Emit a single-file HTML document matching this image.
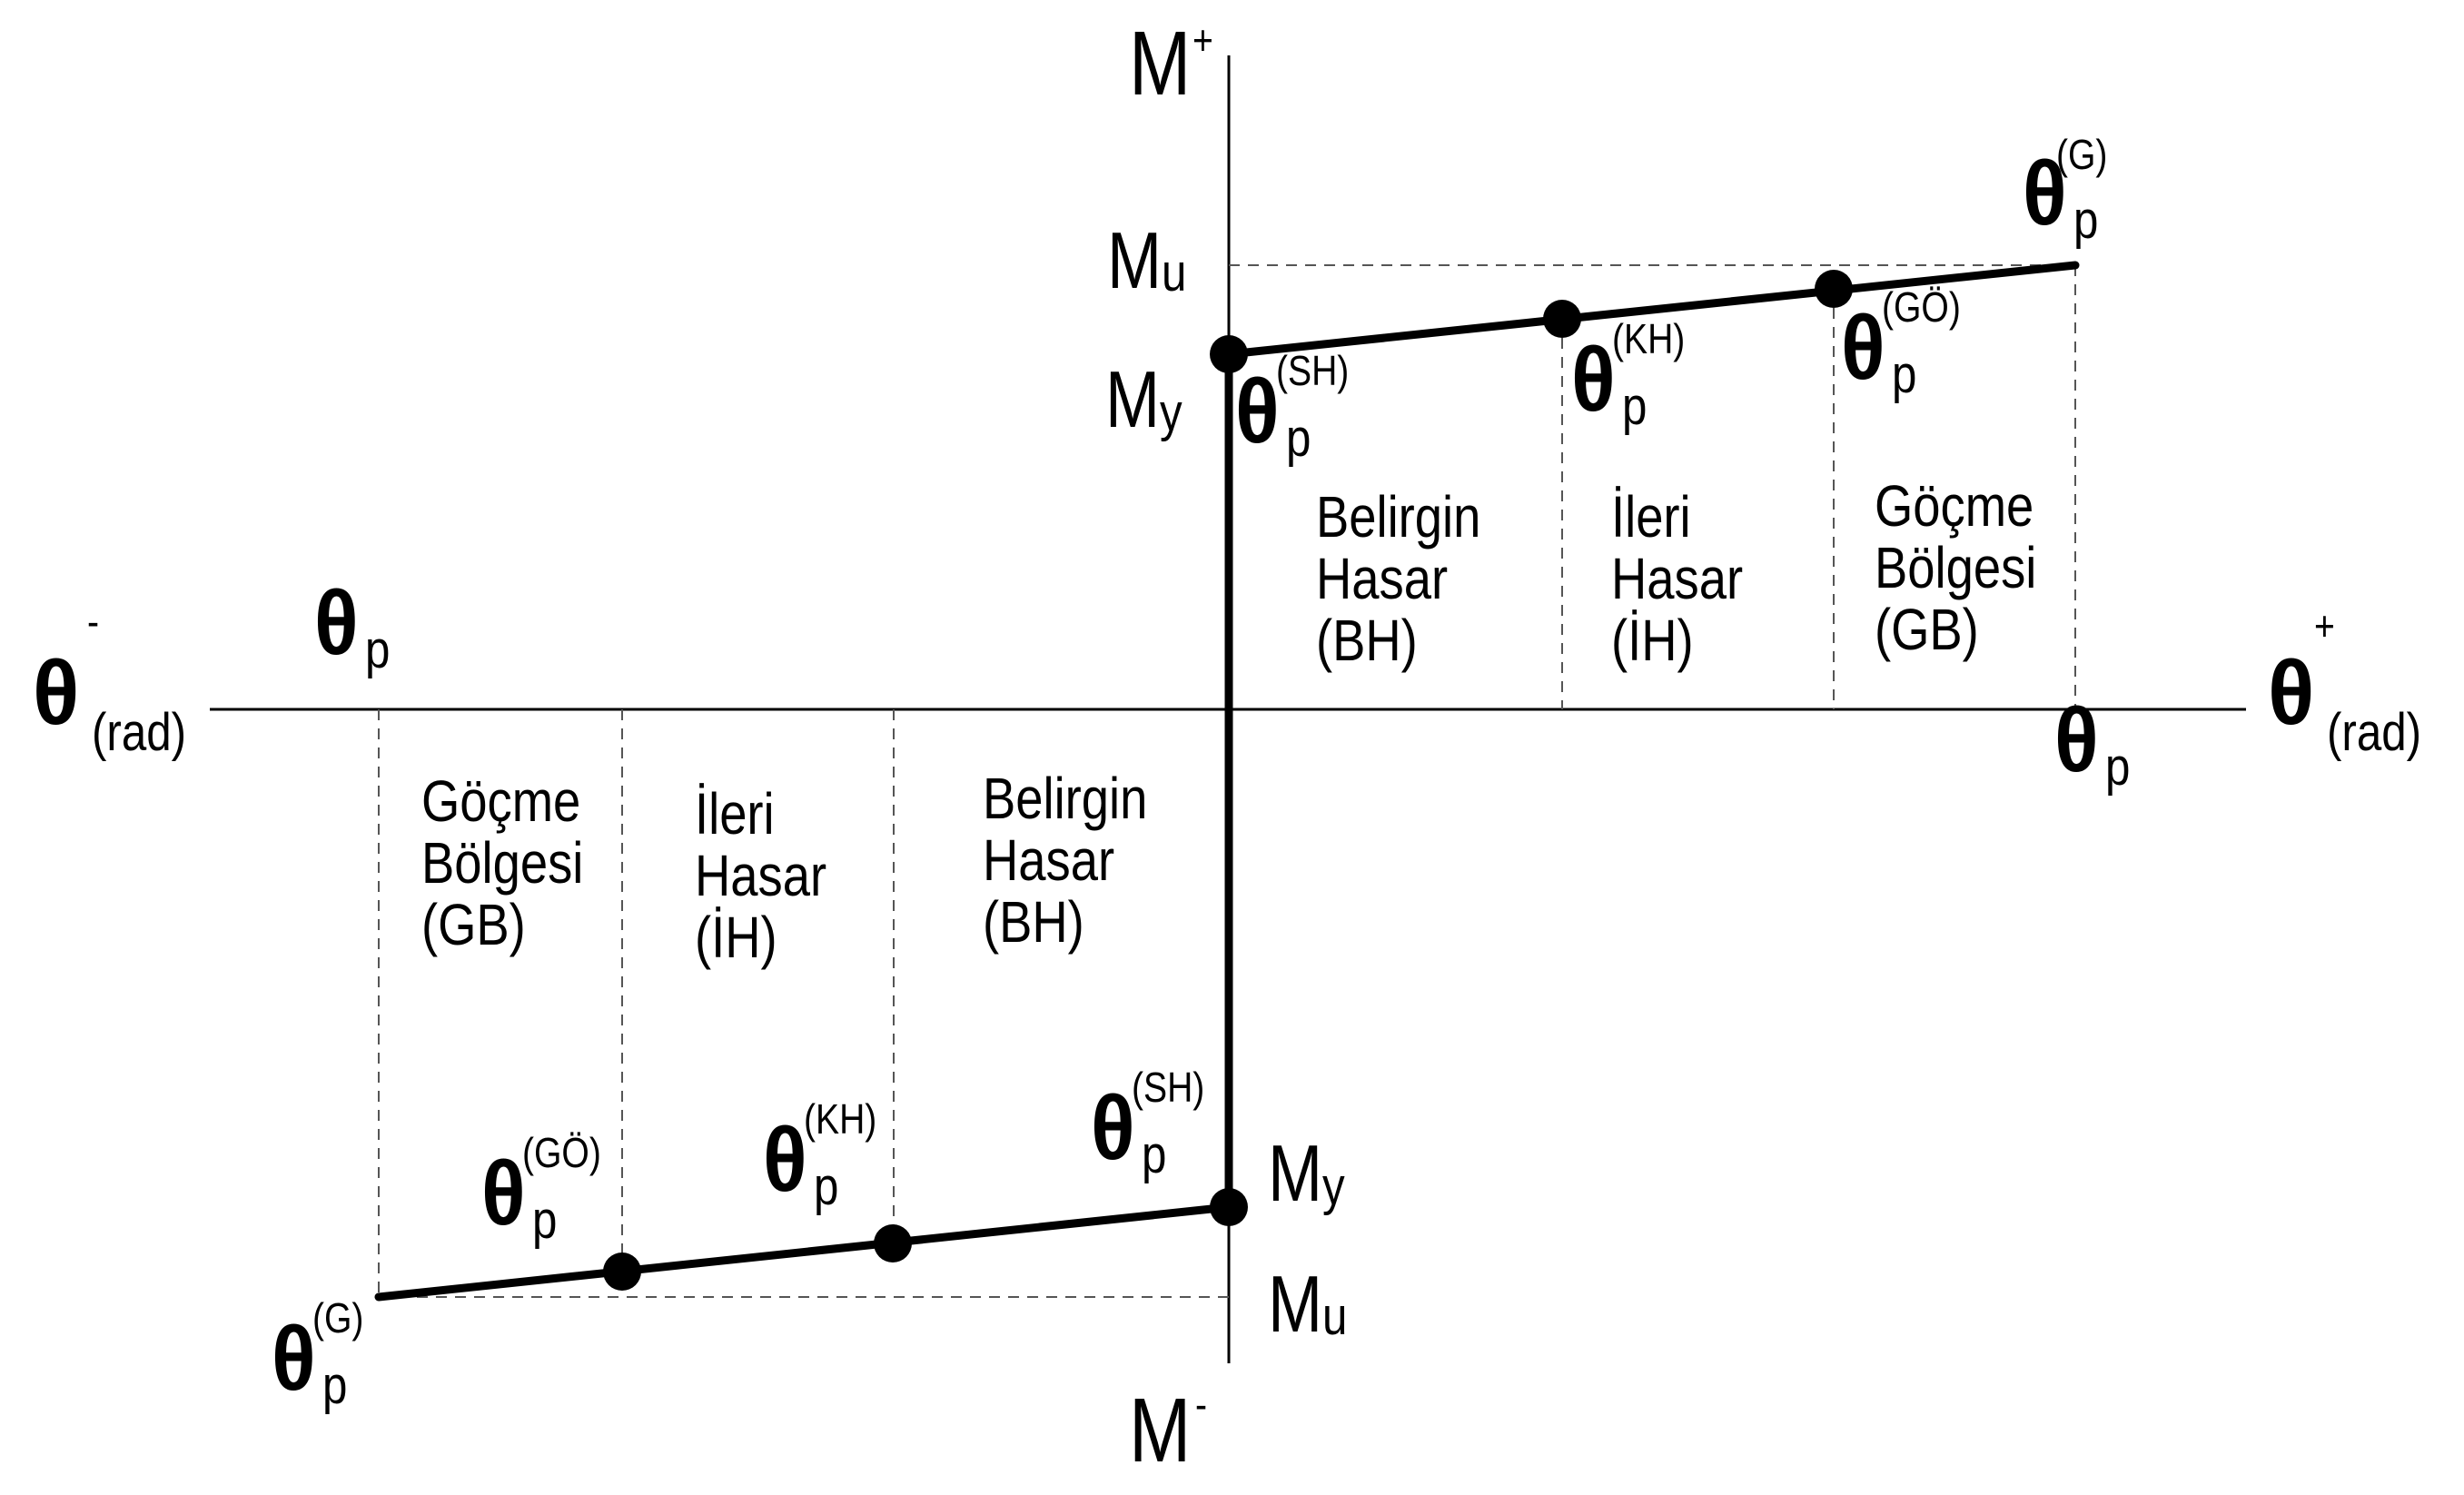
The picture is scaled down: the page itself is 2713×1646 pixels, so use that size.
<!DOCTYPE html>
<html><head><meta charset="utf-8"><style>
html,body{margin:0;padding:0;background:#fff}
svg{display:block}
text{font-family:"Liberation Sans",Arial,sans-serif;fill:#000}
.t{font-size:64px}
.th{font-size:100px;font-weight:bold}
.sub{font-size:58px}
.sup{font-size:46px}
.M{font-size:100px}
.Ms{font-size:88px}
</style></head><body>
<svg width="2713" height="1646" viewBox="0 0 2713 1646" xmlns="http://www.w3.org/2000/svg">
<g stroke="#000" fill="none">
<line x1="1353" y1="61" x2="1353" y2="1501" stroke-width="3"/>
<line x1="231" y1="781" x2="2473" y2="781" stroke-width="3"/>
<g stroke-width="2" stroke-dasharray="12,9" stroke="#555">
<line x1="1353" y1="292" x2="2285" y2="292"/>
<line x1="1720" y1="351" x2="1720" y2="781"/>
<line x1="2019" y1="318" x2="2019" y2="781"/>
<line x1="2285" y1="292" x2="2285" y2="781"/>
<line x1="417" y1="1428" x2="1353" y2="1428"/>
<line x1="417" y1="781" x2="417" y2="1428"/>
<line x1="685" y1="781" x2="685" y2="1400"/>
<line x1="984" y1="781" x2="984" y2="1369"/>
</g>
<line x1="1353" y1="390" x2="1353" y2="1329" stroke-width="9"/>
<line x1="1353" y1="390" x2="2285" y2="292" stroke-width="9" stroke-linecap="round"/>
<line x1="1353" y1="1329" x2="417" y2="1428" stroke-width="9" stroke-linecap="round"/>
</g>
<g fill="#000">
<circle cx="1353" cy="390" r="21"/><circle cx="1720" cy="351" r="21"/><circle cx="2019" cy="318" r="21"/>
<circle cx="1353" cy="1329" r="21"/><circle cx="983" cy="1369" r="21"/><circle cx="685" cy="1400" r="21"/>
</g>
<!-- axis labels -->
<text class="M" transform="translate(1243,104) scale(0.82,1)">M</text><text class="sup" transform="translate(1313,60) scale(0.85,1)">+</text>
<text class="M" transform="translate(1243,1609) scale(0.82,1)">M</text><text class="sup" transform="translate(1316,1562) scale(0.85,1)">-</text>
<text class="Ms" transform="translate(1219,317) scale(0.82,1)">M</text><text class="sub" transform="translate(1279,320) scale(0.85,1)">u</text>
<text class="Ms" transform="translate(1217,470) scale(0.82,1)">M</text><text class="sub" transform="translate(1277,474) scale(0.85,1)">y</text>
<text class="Ms" transform="translate(1396,1322) scale(0.82,1)">M</text><text class="sub" transform="translate(1456,1326) scale(0.85,1)">y</text>
<text class="Ms" transform="translate(1396,1466) scale(0.82,1)">M</text><text class="sub" transform="translate(1456,1469) scale(0.85,1)">u</text>
<text class="th" transform="translate(36,797) scale(0.95,1)">θ</text><text class="sup" transform="translate(96,700) scale(0.85,1)">-</text><text class="sub" transform="translate(101,826) scale(0.85,1)">(rad)</text>
<text class="th" transform="translate(2497,797) scale(0.95,1)">θ</text><text class="sup" transform="translate(2548,705) scale(0.85,1)">+</text><text class="sub" transform="translate(2562,826) scale(0.85,1)">(rad)</text>
<!-- theta_p labels -->
<g>
<text class="th" transform="translate(1360,487) scale(0.9,1)">θ</text><text class="sub" transform="translate(1416,502) scale(0.85,1)">p</text><text class="sup" transform="translate(1405,424) scale(0.85,1)">(SH)</text>
<text class="th" transform="translate(1730,452) scale(0.9,1)">θ</text><text class="sub" transform="translate(1786,467) scale(0.85,1)">p</text><text class="sup" transform="translate(1775,389) scale(0.85,1)">(KH)</text>
<text class="th" transform="translate(2027,417) scale(0.9,1)">θ</text><text class="sub" transform="translate(2083,432) scale(0.85,1)">p</text><text class="sup" transform="translate(2072,354) scale(0.85,1)">(GÖ)</text>
<text class="th" transform="translate(2227,247) scale(0.9,1)">θ</text><text class="sub" transform="translate(2283,262) scale(0.85,1)">p</text><text class="sup" transform="translate(2264,186) scale(0.85,1)">(G)</text>
<text class="th" transform="translate(346,720) scale(0.9,1)">θ</text><text class="sub" transform="translate(402,735) scale(0.85,1)">p</text>
<text class="th" transform="translate(2262,849) scale(0.9,1)">θ</text><text class="sub" transform="translate(2318,864) scale(0.85,1)">p</text>
<text class="th" transform="translate(1201,1276) scale(0.9,1)">θ</text><text class="sub" transform="translate(1257,1291) scale(0.85,1)">p</text><text class="sup" transform="translate(1246,1213) scale(0.85,1)">(SH)</text>
<text class="th" transform="translate(840,1311) scale(0.9,1)">θ</text><text class="sub" transform="translate(896,1326) scale(0.85,1)">p</text><text class="sup" transform="translate(885,1248) scale(0.85,1)">(KH)</text>
<text class="th" transform="translate(530,1348) scale(0.9,1)">θ</text><text class="sub" transform="translate(586,1363) scale(0.85,1)">p</text><text class="sup" transform="translate(575,1285) scale(0.85,1)">(GÖ)</text>
<text class="th" transform="translate(299,1530) scale(0.9,1)">θ</text><text class="sub" transform="translate(355,1545) scale(0.85,1)">p</text><text class="sup" transform="translate(344,1467) scale(0.85,1)">(G)</text>
</g>
<!-- region labels -->
<g transform="translate(1449,591) scale(0.85,1)"><text class="t" x="0" y="0">Belirgin</text><text class="t" x="0" y="68">Hasar</text><text class="t" x="0" y="136">(BH)</text></g>
<g transform="translate(1774,591) scale(0.85,1)"><text class="t" x="0" y="0">İleri</text><text class="t" x="0" y="68">Hasar</text><text class="t" x="0" y="136">(İH)</text></g>
<g transform="translate(2064,579) scale(0.85,1)"><text class="t" x="0" y="0">Göçme</text><text class="t" x="0" y="68">Bölgesi</text><text class="t" x="0" y="136">(GB)</text></g>
<g transform="translate(464,904) scale(0.85,1)"><text class="t" x="0" y="0">Göçme</text><text class="t" x="0" y="68">Bölgesi</text><text class="t" x="0" y="136">(GB)</text></g>
<g transform="translate(765,918) scale(0.85,1)"><text class="t" x="0" y="0">İleri</text><text class="t" x="0" y="68">Hasar</text><text class="t" x="0" y="136">(İH)</text></g>
<g transform="translate(1082,901) scale(0.85,1)"><text class="t" x="0" y="0">Belirgin</text><text class="t" x="0" y="68">Hasar</text><text class="t" x="0" y="136">(BH)</text></g>
</svg>
</body></html>
